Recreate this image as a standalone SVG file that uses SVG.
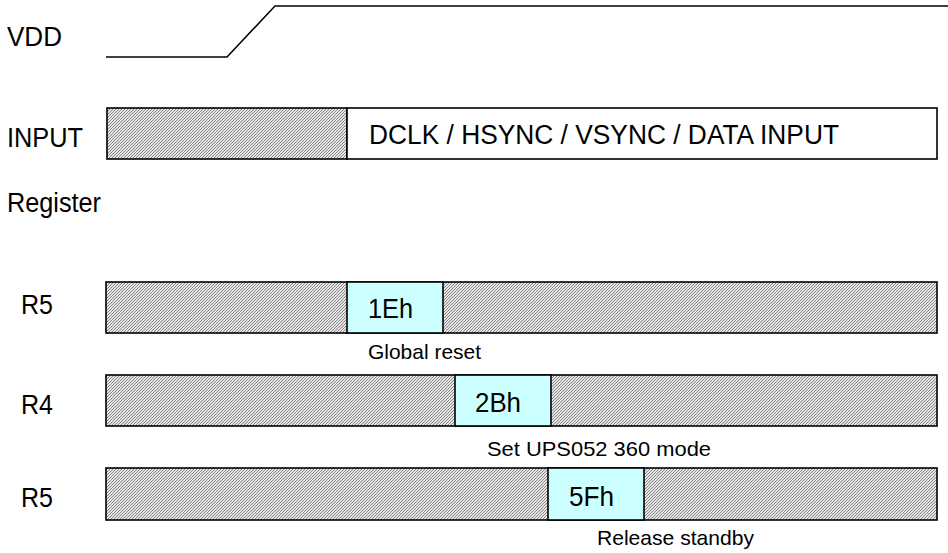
<svg xmlns="http://www.w3.org/2000/svg" width="948" height="553" viewBox="0 0 948 553">
<defs>
<pattern id="hatch" width="3" height="3" patternUnits="userSpaceOnUse">
<rect width="3" height="3" fill="#e6e6e6"/>
<path d="M0,3 L3,0 M-1,1 L1,-1 M2,4 L4,2" stroke="#7a7a7a" stroke-width="0.9"/>
</pattern>
</defs>
<style>
text{font-family:"Liberation Sans",Arial,sans-serif;fill:#000}
.big{font-size:27px}
.small{font-size:21px}
.box{stroke:#000;stroke-width:1.6}
.h{fill:url(#hatch)}
.w{fill:#fff}
.c{fill:#ccffff}
.sig{fill:none;stroke:#000;stroke-width:1.5}
</style>
<rect width="948" height="553" fill="#fff"/>
<g id="vdd">
<text class="big" x="7" y="46" textLength="55" lengthAdjust="spacingAndGlyphs">VDD</text>
<polyline class="sig" points="106,57 227,57 275,6 948,6"/>
</g>
<g id="input">
<text class="big" x="7" y="147" textLength="76" lengthAdjust="spacingAndGlyphs">INPUT</text>
<rect class="box h" x="107" y="108" width="240" height="51"/>
<rect class="box w" x="347" y="108" width="590" height="51"/>
<text class="big" x="369" y="144" textLength="470" lengthAdjust="spacingAndGlyphs">DCLK / HSYNC / VSYNC / DATA INPUT</text>
</g>
<g id="register">
<text class="big" x="7" y="212" textLength="94" lengthAdjust="spacingAndGlyphs">Register</text>
</g>
<g id="r5a">
<text class="big" x="21" y="314" textLength="32" lengthAdjust="spacingAndGlyphs">R5</text>
<rect class="box h" x="106" y="282" width="831" height="51"/>
<rect class="box c" x="347" y="282" width="96" height="51"/>
<text class="big" x="368" y="318" textLength="45" lengthAdjust="spacingAndGlyphs">1Eh</text>
<text class="small" x="368" y="359" textLength="113" lengthAdjust="spacingAndGlyphs">Global reset</text>
</g>
<g id="r4">
<text class="big" x="21" y="414" textLength="32" lengthAdjust="spacingAndGlyphs">R4</text>
<rect class="box h" x="106" y="375" width="831" height="51"/>
<rect class="box c" x="455" y="375" width="96" height="51"/>
<text class="big" x="475" y="412" textLength="46" lengthAdjust="spacingAndGlyphs">2Bh</text>
<text class="small" x="487" y="456" textLength="224" lengthAdjust="spacingAndGlyphs">Set UPS052 360 mode</text>
</g>
<g id="r5b">
<text class="big" x="21" y="507" textLength="32" lengthAdjust="spacingAndGlyphs">R5</text>
<rect class="box h" x="106" y="468" width="831" height="52"/>
<rect class="box c" x="548" y="468" width="96" height="52"/>
<text class="big" x="569" y="506" textLength="45" lengthAdjust="spacingAndGlyphs">5Fh</text>
<text class="small" x="597" y="545" textLength="157" lengthAdjust="spacingAndGlyphs">Release standby</text>
</g>
<g id="connectors"/>
</svg>
